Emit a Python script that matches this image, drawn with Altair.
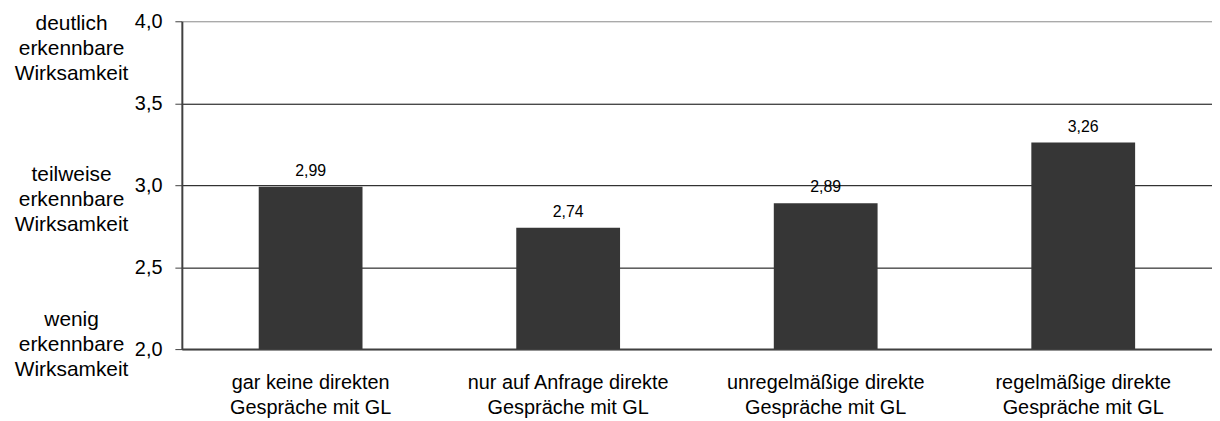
import altair as alt
import pandas as pd

# ---- data ----
categories = [
    "gar keine direkten\nGespräche mit GL",
    "nur auf Anfrage direkte\nGespräche mit GL",
    "unregelmäßige direkte\nGespräche mit GL",
    "regelmäßige direkte\nGespräche mit GL",
]
values = [2.99, 2.74, 2.89, 3.26]
y_ticks = [2.0, 2.5, 3.0, 3.5, 4.0]
scale_texts = [
    "deutlich\nerkennbare\nWirksamkeit",
    "teilweise\nerkennbare\nWirksamkeit",
    "wenig\nerkennbare\nWirksamkeit",
]
scale_anchor = [4.0, 3.0, 2.0]

FONT = "Liberation Sans"
BAR_COLOR = "#363636"
AXIS_COLOR = "#404040"

df = pd.DataFrame({"cat": categories, "val": values})
df_scale = pd.DataFrame({"txt": scale_texts, "anchor": scale_anchor})

y_scale = alt.Scale(domain=[y_ticks[0], y_ticks[-1]], nice=False, zero=False)
x_scale = alt.Scale(paddingInner=0.597, paddingOuter=0.2985)

base = alt.Chart(df)

bars = base.mark_bar(color=BAR_COLOR).encode(
    x=alt.X(
        "cat:N",
        sort=None,
        scale=x_scale,
        title=None,
        axis=alt.Axis(
            labelExpr="split(datum.label, '\\n')",
            labelAngle=0,
            labelFontSize=20,
            labelLineHeight=25,
            labelColor="black",
            labelPadding=24,
            ticks=False,
            tickSize=0,
            domainColor=AXIS_COLOR,
            domainWidth=2,
            grid=False,
            labelLimit=400,
        ),
    ),
    y=alt.Y(
        "val:Q",
        scale=y_scale,
        title=None,
        axis=alt.Axis(
            values=y_ticks,
            labelExpr="replace(format(datum.value, '.1f'), '.', ',')",
            labelFontSize=20,
            labelColor="black",
            labelPadding=13,
            tickSize=7,
            tickColor=AXIS_COLOR,
            domainColor=AXIS_COLOR,
            domainWidth=2,
            grid=True,
            gridColor=alt.condition("datum.value == 4", alt.value("#8a8a8a"), alt.value("black")),
            gridWidth=1,
        ),
    ),
    y2=alt.datum(y_ticks[0]),
)

labels = base.transform_calculate(
    lab="replace(format(datum.val, '.2f'), '.', ',')"
).mark_text(
    font=FONT, fontSize=16, color="black", baseline="alphabetic", dy=-11
).encode(
    x=alt.X("cat:N", sort=None, scale=x_scale),
    y=alt.Y("val:Q", scale=y_scale),
    text="lab:N",
)

offsets = [9, -4, -23]
side_layers = []
for a, off in zip(scale_anchor, offsets):
    side_layers.append(
        alt.Chart(df_scale)
        .transform_filter(alt.datum.anchor == a)
        .mark_text(
            font=FONT,
            fontSize=21,
            lineHeight=25,
            lineBreak="\n",
            align="center",
            baseline="alphabetic",
            color="black",
            dy=off,
        )
        .encode(
            x=alt.value(-111),
            y=alt.Y("anchor:Q", scale=y_scale),
            text="txt:N",
        )
    )

chart = (
    alt.layer(bars, labels, *side_layers)
    .properties(
        width=1037,
        height=330,
        autosize="none",
        padding={"left": 175, "top": 12, "right": 0, "bottom": 70},
    )
    .configure(font=FONT)
    .configure_view(stroke=None)
    .configure_axis(labelFont=FONT)
)

chart.save("out.html", embed_options={"renderer": "svg", "actions": False})
